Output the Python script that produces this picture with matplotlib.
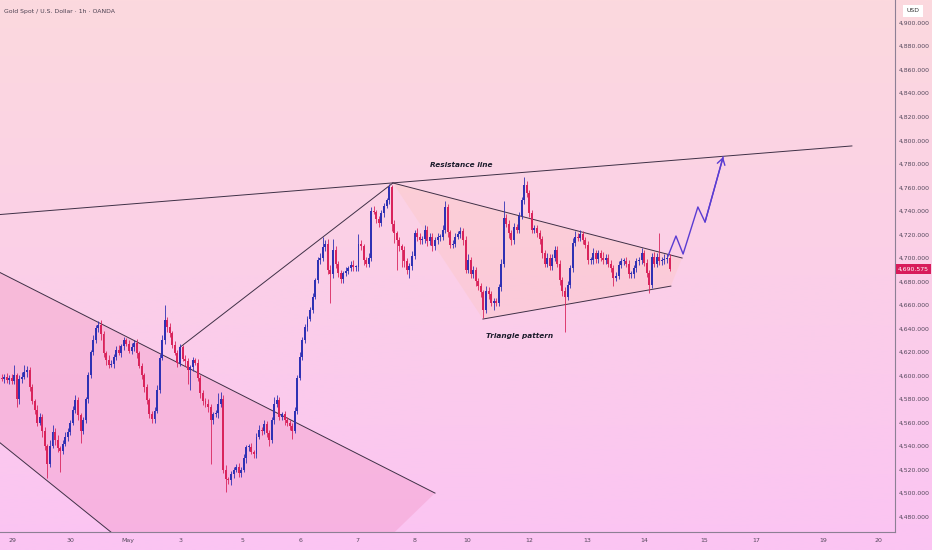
import numpy as np
import matplotlib
matplotlib.use('Agg')
import matplotlib.pyplot as plt
from matplotlib.colors import LinearSegmentedColormap
from matplotlib.ticker import FixedLocator, FuncFormatter

# ---- data (hourly closes) ----
first_open = 4598
closes = [
4597,4599,4596,4598,4595,4600,4580,4597,4599,4603,
4605,4590,4578,4571,4560,4565,4553,4540,4525,4540,
4552,4545,4538,4536,4542,4548,4552,4560,4571,4579,
4566,4553,4562,4580,4600,4620,4630,4640,4643,4635,
4619,4613,4609,4610,4616,4622,4619,4625,4630,4627,
4621,4624,4628,4619,4608,4600,4590,4579,4567,4563,
4570,4588,4615,4630,4647,4641,4636,4626,4619,4611,
4624,4614,4612,4605,4607,4613,4611,4598,4585,4578,
4576,4573,4562,4567,4568,4576,4580,4520,4512,4511,
4516,4520,4522,4517,4520,4530,4539,4539,4535,4533,
4548,4554,4553,4559,4551,4545,4562,4576,4579,4565,
4567,4562,4560,4557,4553,4570,4598,4616,4630,4641,
4648,4656,4667,4681,4698,4700,4709,4712,4690,4686,
4707,4695,4687,4682,4687,4689,4691,4694,4692,4692,
4712,4710,4698,4695,4700,4740,4739,4733,4730,4738,
4744,4749,4760,4729,4721,4715,4710,4707,4697,4690,
4693,4702,4721,4718,4715,4716,4724,4714,4718,4710,
4715,4718,4718,4724,4743,4722,4711,4712,4718,4720,
4723,4715,4690,4698,4686,4690,4680,4676,4671,4656,
4672,4669,4662,4663,4662,4675,4695,4734,4729,4721,
4715,4726,4724,4736,4749,4762,4755,4738,4724,4725,
4721,4716,4704,4695,4700,4693,4700,4707,4695,4681,
4672,4667,4677,4691,4713,4718,4717,4720,4715,4711,
4698,4698,4704,4699,4704,4700,4698,4700,4695,4691,
4683,4685,4694,4697,4697,4695,4686,4686,4691,4697,
4698,4704,4696,4687,4677,4701,4695,4701,4697,4698,
4699,4700,4690.575]

wick_up = [
3,2,3,2,3,9,2,3,4,6, 3,2,3,2,4,3,2,3,2,5, 6,3,4,2,3,4,3,2,3,4,
3,2,3,2,3,2,4,3,3,4, 3,2,4,3,2,3,4,2,3,2, 3,4,2,3,2,3,2,3,2,3,
3,4,3,4,13,3,4,2,3,3, 3,2,3,3,2,3,2,3,2,3, 3,4,3,2,3,9,6,3,4,2,
3,2,3,4,2,3,2,3,4,2, 3,4,2,3,2,3,3,6,4,3, 2,3,3,2,3,3,2,4,3,3,
3,2,3,2,3,4,9,3,4,4, 9,3,2,3,2,3,2,3,4,2, 8,3,2,3,4,3,4,2,3,3,
3,2,3,2,3,2,3,2,3,3, 3,4,3,4,3,3,4,3,3,3, 3,3,2,4,5,3,2,3,3,3,
3,2,4,5,3,3,2,3,3,2, 4,3,3,3,3,3,4,14,3,3, 3,4,3,3,3,7,3,3,3,3,
3,3,3,3,4,3,3,3,3,3, 3,3,3,3,4,5,3,4,3,3, 3,3,4,3,3,3,5,3,3,3,
3,3,3,3,3,4,3,3,3,3, 3,4,3,3,3,3,4,3,20,3, 4,3,3]

wick_dn = [
2,3,2,3,2,2,7,4,3,2, 4,3,2,4,3,2,5,3,12,3, 2,4,3,18,3,2,4,3,2,3,
4,10,3,2,3,2,3,2,3,5, 3,4,3,2,4,3,2,3,3,2, 2,3,3,4,2,3,4,3,3,3,
3,2,3,2,3,4,3,3,2,4, 3,2,4,12,17,3,2,3,4,3, 3,4,37,3,2,4,3,3,11,3,
4,3,2,3,3,2,4,3,2,3, 3,2,4,3,3,5,2,3,3,3, 3,4,3,3,7,2,3,2,3,2,
3,2,3,2,2,3,3,3,4,24, 3,4,3,3,3,2,3,2,3,3, 3,3,4,3,3,3,2,3,4,3,
3,2,3,6,8,25,4,15,5,4, 7,3,3,4,3,3,3,4,3,4, 3,3,4,3,3,4,3,3,3,2,
3,4,3,3,3,3,4,3,4,7, 3,4,3,6,3,3,3,3,3,4, 4,3,3,3,3,3,3,3,3,3,
3,4,4,3,3,3,3,3,3,4, 4,30,3,3,3,3,3,3,3,3, 3,3,3,3,3,3,3,3,3,3,
7,3,3,3,3,3,3,3,3,3, 3,3,3,3,7,3,3,3,3,3, 3,3,2]

last_price = 4690.575
price_ticks = list(range(4480, 4901, 20))
date_pos = [4.5, 27.1, 49.6, 70.2, 94.5, 117.1, 139.4, 161.9, 182.7, 206.9,
            229.6, 252.0, 275.7, 296.1, 322.2, 344.1]
date_lbl = ['29', '30', 'May', '3', '5', '6', '7', '8', '10', '12',
            '13', '14', '15', '17', '19', '20']

# drawings (candle index, price)
channel_upper = [(-1, 4688), (170, 4500)]
channel_lower = [(-1, 4543.5), (60, 4437)]
channel_poly = [(-1, 4688), (170, 4500), (140, 4437), (60, 4437), (-1, 4543.5)]
rise_line = [(70, 4624), (153.5, 4763.7)]
resist_line = [(-1, 4736.8), (333.5, 4795.2)]
tri_upper = [(153.5, 4763.7), (266.9, 4699.9)]
tri_lower = [(188.8, 4648), (262.5, 4676)]
tri_poly = [(153.5, 4763.7), (266.9, 4699.9), (262.5, 4676), (188.8, 4648)]
proj_x = [261.4, 264.5, 267.3, 273.1, 275.9, 283.0]
proj_y = [4701.6, 4718.6, 4703.3, 4743.3, 4730.5, 4785.8]

UP = '#2f31b4'
DN = '#d9245c'
LINE = '#3f3046'

closes = np.array(closes, dtype=float)
opens = np.r_[first_open, closes[:-1]]
highs = np.maximum(opens, closes) + np.array(wick_up)
lows = np.minimum(opens, closes) - np.array(wick_dn)
idx = np.arange(len(closes))
cols = [UP if c >= o else DN for o, c in zip(opens, closes)]

fig = plt.figure(figsize=(9.32, 5.5), dpi=100)

# gradient background
bg = fig.add_axes([0, 0, 1, 1], zorder=-5)
cmap = LinearSegmentedColormap.from_list('bg', ['#fcd9de', '#fbcfe8', '#fbc4f3'])
bg.imshow(np.linspace(0, 1, 256).reshape(-1, 1), aspect='auto', cmap=cmap,
          extent=[0, 1, 0, 1])
bg.axis('off')

ax = fig.add_axes([0, 18/550, 895/932, 532/550])
ax.set_facecolor('none')
ax.set_xlim(-0.59, 350.4)
ax.set_ylim(4466.9, 4919.3)

# shaded shapes
ax.fill([p[0] for p in channel_poly], [p[1] for p in channel_poly],
        color='#eb6ea0', alpha=0.2, lw=0, zorder=1)
ax.fill([p[0] for p in tri_poly], [p[1] for p in tri_poly],
        color='#ffbea0', alpha=0.2, lw=0, zorder=1)

for ln in [channel_upper, channel_lower, rise_line, resist_line, tri_upper, tri_lower]:
    ax.plot([p[0] for p in ln], [p[1] for p in ln], color=LINE, lw=0.7, zorder=2)

# candles
ax.vlines(idx, lows, highs, colors=cols, lw=0.6, zorder=3)
body = np.abs(closes - opens)
body = np.where(body < 0.8, 0.8, body)
ax.bar(idx, body, bottom=np.minimum(opens, closes), width=0.78, color=cols,
       lw=0, zorder=4)

# projection path
ax.plot(proj_x, proj_y, color='#5a3cd2', lw=1.0, zorder=5)
ax.annotate('', xy=(proj_x[-1], proj_y[-1]), xytext=(proj_x[-2], proj_y[-2]),
            arrowprops=dict(arrowstyle='->,head_length=0.45,head_width=0.28',
                            color='#5a3cd2', lw=1.0, shrinkA=0, shrinkB=0),
            zorder=5)

ax.text(180.2, 4779, 'Resistance line', fontsize=5.3, fontweight='bold',
        style='italic', color='#1c1c2c', ha='center', va='center')
ax.text(203, 4633.6, 'Triangle pattern', fontsize=5.3, fontweight='bold',
        style='italic', color='#1c1c2c', ha='center', va='center')

# axes styling
for s in ['top', 'left']:
    ax.spines[s].set_visible(False)
ax.spines['right'].set_color('#8d7f95')
ax.spines['bottom'].set_color('#8d7f95')
ax.spines['right'].set_linewidth(0.8)
ax.spines['bottom'].set_linewidth(0.8)

ax.xaxis.set_major_locator(FixedLocator(date_pos))
ax.set_xticklabels(date_lbl)
ax.tick_params(axis='x', length=0, pad=4, labelsize=4.5, labelcolor='#54485c')
ax.yaxis.tick_right()
ax.yaxis.set_major_locator(FixedLocator(price_ticks))
ax.yaxis.set_major_formatter(FuncFormatter(lambda v, p: f'{v:,.3f}'))
ax.tick_params(axis='y', length=0, pad=2.5, labelsize=4.4, labelcolor='#54485c')

ax.text(1.003, last_price, f'{last_price:,.3f}', transform=ax.get_yaxis_transform(),
        fontsize=4.4, color='white', ha='left', va='center', zorder=10,
        bbox=dict(boxstyle='square,pad=0.35', fc='#d81b5b', ec='none'))

fig.text(913/932, 1 - 11/550, 'USD', fontsize=4.4, color='#333333', ha='center',
         va='center', bbox=dict(boxstyle='square,pad=0.6', fc='white', ec='none'))
fig.text(4/932, 1 - 11/550, 'Gold Spot / U.S. Dollar \u00b7 1h \u00b7 OANDA',
         fontsize=4.4, color='#4a4050', ha='left', va='center')

fig.savefig('out.png', dpi=100)
